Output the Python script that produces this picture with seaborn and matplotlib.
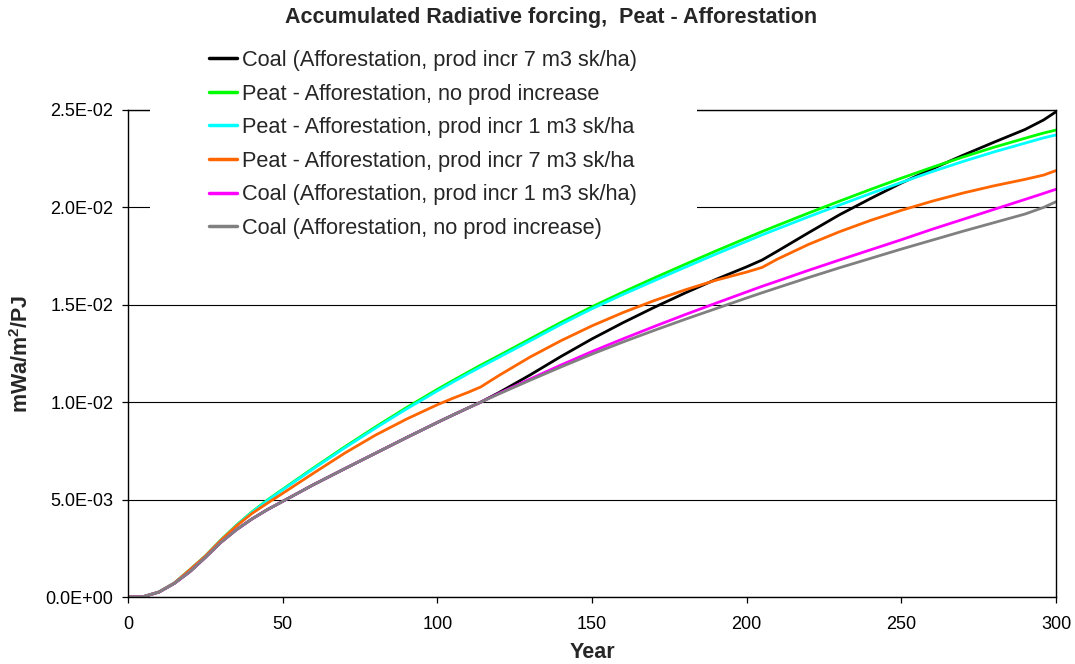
import numpy as np
import pandas as pd
import matplotlib
matplotlib.use("Agg")
import matplotlib.pyplot as plt
from matplotlib.patches import Rectangle
import seaborn as sns

years = [0, 5, 10, 15, 20, 25, 30, 35, 40, 45, 50, 60, 70, 80, 90, 100, 105, 110, 114,
         120, 130, 140, 150, 160, 170, 180, 190, 200, 205, 210, 220, 230, 240, 250,
         260, 270, 280, 290, 296, 300]

coal_7 = [0, 0.00002, 0.00025, 0.0007, 0.0013, 0.00203, 0.0028, 0.00345, 0.004, 0.00448,
          0.00491, 0.00577, 0.00658, 0.00738, 0.00818, 0.00896, 0.00934, 0.00971, 0.01,
          0.0105, 0.0114, 0.01235, 0.01325, 0.01408, 0.01486, 0.0156, 0.0163, 0.01695,
          0.0173, 0.01776, 0.0187, 0.01962, 0.02045, 0.02125, 0.02198, 0.02268, 0.02335,
          0.024, 0.02449, 0.02491]

peat_0 = [0, 0.00002, 0.00026, 0.00072, 0.0014, 0.0021, 0.00292, 0.00368, 0.00436, 0.00497,
          0.00553, 0.00663, 0.0077, 0.00873, 0.00972, 0.01066, 0.01111, 0.01155, 0.0119,
          0.0124, 0.01325, 0.0141, 0.0149, 0.01565, 0.01637, 0.01707, 0.01776, 0.01843,
          0.01876, 0.01908, 0.01971, 0.02032, 0.02092, 0.0215, 0.02206, 0.02259, 0.02309,
          0.02355, 0.02382, 0.02397]

peat_1 = [0, 0.00002, 0.00026, 0.00072, 0.0014, 0.0021, 0.00292, 0.00367, 0.00434, 0.00494,
          0.0055, 0.00659, 0.00765, 0.00867, 0.00965, 0.01058, 0.01103, 0.01147, 0.01181,
          0.01231, 0.01315, 0.014, 0.0148, 0.01553, 0.01623, 0.01692, 0.0176, 0.01826,
          0.01859, 0.0189, 0.01952, 0.02012, 0.02071, 0.02128, 0.02184, 0.02236, 0.02285,
          0.0233, 0.02357, 0.02372]

peat_7 = [0, 0.00002, 0.00026, 0.00072, 0.0014, 0.0021, 0.00291, 0.00364, 0.00428, 0.00481,
          0.00532, 0.00636, 0.00738, 0.00831, 0.00913, 0.00987, 0.0102, 0.01051, 0.01078,
          0.01138, 0.01232, 0.01316, 0.01392, 0.0146, 0.01521, 0.01576, 0.01626, 0.01668,
          0.01692, 0.01735, 0.0181, 0.01875, 0.01933, 0.01985, 0.02032, 0.02074, 0.02111,
          0.02144, 0.02166, 0.02189]

coal_1 = [0, 0.00002, 0.00025, 0.0007, 0.0013, 0.00203, 0.0028, 0.00345, 0.004, 0.00448,
          0.00491, 0.00577, 0.00658, 0.00738, 0.00818, 0.00896, 0.00934, 0.00971, 0.01,
          0.01046, 0.01119, 0.01191, 0.0126, 0.01325, 0.01388, 0.01449, 0.01508, 0.01566,
          0.01595, 0.01622, 0.01677, 0.0173, 0.01782, 0.01834, 0.01888, 0.01939, 0.0199,
          0.02041, 0.02072, 0.02093]

coal_0 = [0, 0.00002, 0.00025, 0.0007, 0.0013, 0.00203, 0.0028, 0.00345, 0.004, 0.00448,
          0.00491, 0.00577, 0.00658, 0.00738, 0.00818, 0.00896, 0.00934, 0.00971, 0.01,
          0.01043, 0.01113, 0.01181, 0.01247, 0.01309, 0.01368, 0.01425, 0.0148, 0.01535,
          0.01562, 0.01588, 0.0164, 0.0169, 0.01738, 0.01786, 0.01832, 0.01878, 0.01922,
          0.01966, 0.02, 0.02029]

series_names = [
    "Coal (Afforestation, prod incr 7 m3 sk/ha)",
    "Peat - Afforestation, no prod increase",
    "Peat - Afforestation, prod incr 1 m3 sk/ha",
    "Peat - Afforestation, prod incr 7 m3 sk/ha",
    "Coal (Afforestation, prod incr 1 m3 sk/ha)",
    "Coal (Afforestation, no prod increase)",
]
series_values = [coal_7, peat_0, peat_1, peat_7, coal_1, coal_0]
colors = ["#000000", "#00FF00", "#00FFFF", "#FF6600", "#FF00FF", "#808080"]

y_ticks = [0, 0.005, 0.010, 0.015, 0.020, 0.025]
y_tick_labels = ["0.0E+00", "5.0E-03", "1.0E-02", "1.5E-02", "2.0E-02", "2.5E-02"]
x_ticks = [0, 50, 100, 150, 200, 250, 300]

df = pd.concat([pd.DataFrame({"Year": years, "value": v, "series": n})
                for n, v in zip(series_names, series_values)], ignore_index=True)

sns.set_style("ticks")
plt.rcParams["font.family"] = ["Liberation Sans", "DejaVu Sans"]
plt.rcParams["mathtext.fontset"] = "custom"
plt.rcParams["mathtext.rm"] = "Liberation Sans"
plt.rcParams["mathtext.bf"] = "Liberation Sans:bold"

W, H = 1075, 664
fig = plt.figure(figsize=(W / 100, H / 100), dpi=100)
ax = fig.add_axes([128 / W, 1 - 597 / H, (1056 - 128) / W, (597 - 110) / H])

sns.lineplot(data=df, x="Year", y="value", hue="series", hue_order=series_names,
             palette=dict(zip(series_names, colors)), linewidth=2.0, ax=ax,
             legend=True, estimator=None, sort=False)

handles, labels = ax.get_legend_handles_labels()
ax.get_legend().remove()

ax.set_xlim(0, 300)
ax.set_ylim(0, 0.025)
ax.set_xticks(x_ticks)
ax.set_yticks(y_ticks)
ax.set_yticklabels(y_tick_labels)
ax.yaxis.grid(True, color="black", linewidth=0.8)
ax.xaxis.grid(False)
for s in ["left", "right", "top", "bottom"]:
    ax.spines[s].set_visible(True)
    ax.spines[s].set_color("black")
    ax.spines[s].set_linewidth(1.0)
ax.tick_params(axis="both", direction="out", length=4.5, width=0.9, colors="black",
               labelsize=13)
ax.tick_params(axis="y", pad=6)
ax.tick_params(axis="x", pad=9)
ax.set_xlabel("Year", fontsize=15.5, fontweight="bold", labelpad=7)
ax.set_ylabel(r"mWa/m$\mathbf{^2}$/PJ", fontsize=15.5, fontweight="bold", labelpad=9)

fig.text(551 / W, 1 - 18 / H, "Accumulated Radiative forcing,  Peat - Afforestation",
         ha="center", va="center", fontsize=15.5, fontweight="bold")

rect = Rectangle((150 / W, 1 - 245 / H), (697 - 150) / W, (245 - 40) / H,
                 transform=fig.transFigure, facecolor="white", edgecolor="none", zorder=1)
fig.add_artist(rect)

for h in handles:
    h.set_linewidth(2.5)
fig.legend(handles, labels, loc="upper left", bbox_to_anchor=(209 / W, 1 - 50 / H),
           frameon=False, fontsize=15.7, handlelength=1.28, handletextpad=0.23,
           labelspacing=0.575, borderpad=0, borderaxespad=0)

fig.savefig("out.png", dpi=100)
